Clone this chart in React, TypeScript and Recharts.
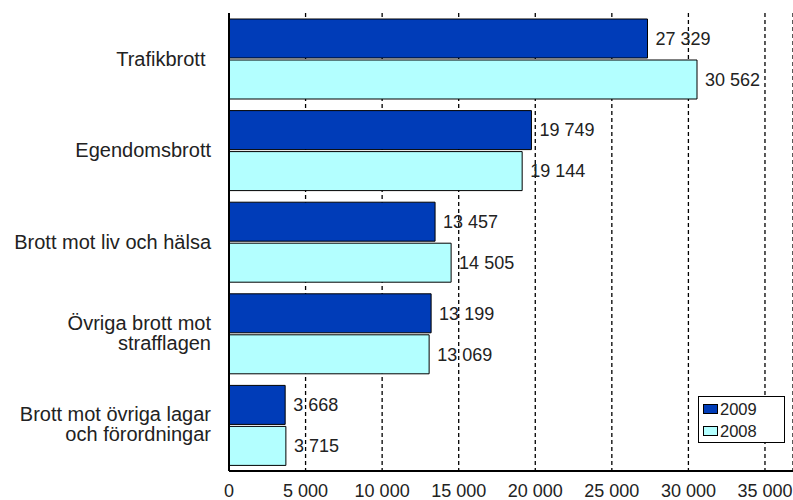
import { Bar, BarChart, CartesianGrid, LabelList, Legend, XAxis, YAxis } from "recharts";

const categories = [
  "Trafikbrott ",
  "Egendomsbrott",
  "Brott mot liv och hälsa",
  "Övriga brott mot\nstrafflagen",
  "Brott mot övriga lagar\noch förordningar",
];
const values2009 = [27329, 19749, 13457, 13199, 3668];
const values2008 = [30562, 19144, 14505, 13069, 3715];
const xTicks = [0, 5000, 10000, 15000, 20000, 25000, 30000, 35000];

const data = categories.map((name, i) => ({
  name,
  y2009: values2009[i],
  y2008: values2008[i],
}));

const fmt = (v: number) => String(v).replace(/\B(?=(\d{3})+(?!\d))/g, " ");

const CategoryTick = ({ x, y, payload }: any) => {
  const lines = String(payload.value).split("\n");
  return (
    <text x={x} y={y} textAnchor="end" fontSize={20} fill="#222" style={{ whiteSpace: "pre" }}>
      {lines.map((l, i) => (
        <tspan key={i} x={x} dy={i === 0 ? 7 - (lines.length - 1) * 11 : 20}>
          {l}
        </tspan>
      ))}
    </text>
  );
};

// newest year first, like the original legend
const renderLegend = ({ payload }: any) => {
  const items = [...(payload || [])].sort((a: any, b: any) => Number(b.value) - Number(a.value));
  return (
    <div
      style={{
        border: "1px solid #000",
        background: "#fff",
        width: 87,
        height: 47,
        boxSizing: "border-box",
        padding: "1px 0 0 4px",
        fontSize: 16.5,
        color: "#222",
      }}
    >
      {items.map((e: any) => (
        <div key={e.value} style={{ height: 22, display: "flex", alignItems: "center" }}>
          <span
            style={{
              display: "inline-block",
              width: 15,
              height: 10,
              boxSizing: "border-box",
              border: "1px solid #000",
              background: e.color,
              marginRight: 2,
            }}
          />
          {e.value}
        </div>
      ))}
    </div>
  );
};

export default function App() {
  return (
    <div
      style={{
        position: "absolute",
        left: 0,
        top: 0,
        width: 793,
        height: 500,
        overflow: "hidden",
        background: "#fff",
        fontFamily: '"Liberation Sans", Arial, sans-serif',
      }}
    >
      <BarChart
        width={793}
        height={500}
        data={data}
        layout="vertical"
        margin={{ top: 13, right: 0, bottom: 0, left: 0 }}
        barCategoryGap={6}
        barGap={2}
      >
        <CartesianGrid horizontal={false} stroke="#000" strokeWidth={1.3} strokeDasharray="4 3" />
        <XAxis
          type="number"
          domain={[0, 36830]}
          ticks={xTicks}
          height={29}
          tickSize={0}
          tickMargin={13}
          tickLine={false}
          axisLine={{ stroke: "#000", strokeWidth: 2 }}
          tick={{ fontSize: 18, fill: "#222" }}
          tickFormatter={fmt}
          interval={0}
        />
        <XAxis
          xAxisId="top"
          orientation="top"
          type="number"
          domain={[0, 36830]}
          height={0}
          tick={false}
          tickLine={false}
          axisLine={{ stroke: "#000", strokeWidth: 2 }}
        />
        <YAxis
          type="category"
          dataKey="name"
          width={229}
          tickSize={0}
          tickMargin={18}
          tickLine={false}
          interval={0}
          axisLine={{ stroke: "#000", strokeWidth: 2 }}
          tick={<CategoryTick />}
        />
        <Legend
          layout="horizontal"
          verticalAlign="middle"
          align="center"
          content={renderLegend}
          wrapperStyle={{ left: 698, top: 396, width: 87, height: 47 }}
        />
        <Bar dataKey="y2009" name="2009" fill="#003CB8" stroke="#000" strokeWidth={1} isAnimationActive={false}>
          <LabelList dataKey="y2009" position="right" offset={8} formatter={fmt} style={{ fontSize: 18, fill: "#222" }} />
        </Bar>
        <Bar dataKey="y2008" name="2008" fill="#B3FFFF" stroke="#000" strokeWidth={1} isAnimationActive={false}>
          <LabelList dataKey="y2008" position="right" offset={8} formatter={fmt} style={{ fontSize: 18, fill: "#222" }} />
        </Bar>
      </BarChart>
    </div>
  );
}
